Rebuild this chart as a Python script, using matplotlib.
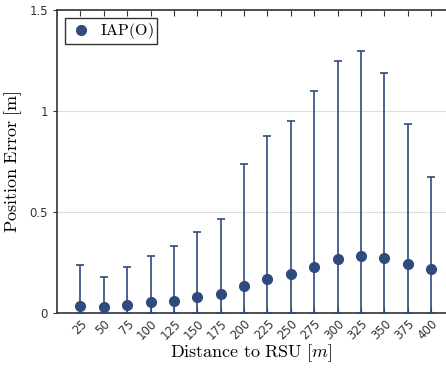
import matplotlib
matplotlib.use("Agg")
import matplotlib.pyplot as plt
from matplotlib.lines import Line2D
import numpy as np

# distances to the RSU and the mean position error with its upper spread
distances = [25, 50, 75, 100, 125, 150, 175, 200, 225, 250, 275, 300, 325, 350, 375, 400]
mean_err = [0.035, 0.030, 0.040, 0.053, 0.061, 0.078, 0.093, 0.132, 0.167, 0.193,
            0.229, 0.267, 0.282, 0.274, 0.243, 0.216]
upper_err = [0.236, 0.177, 0.226, 0.282, 0.332, 0.403, 0.465, 0.736, 0.878, 0.952,
             1.098, 1.248, 1.299, 1.190, 0.937, 0.673]

plt.rcParams['mathtext.fontset'] = 'cm'
navy = '#2f4a7d'

fig = plt.figure(figsize=(4.46, 3.7), dpi=100)
ax = fig.add_axes([0.128, 0.154, 0.872, 0.819])

mean = np.array(mean_err)
lo = mean
hi = np.array(upper_err) - mean
ax.errorbar(distances, mean_err, yerr=[lo, hi], fmt='o', color=navy, ecolor=navy,
            markersize=7, elinewidth=1.2, capsize=3, capthick=1.2, zorder=3)

ax.set_xlim(0, 416)
ax.set_ylim(0, 1.5)
ax.set_xticks(distances)
ax.set_xticklabels([str(d) for d in distances], rotation=45, ha='right',
                   rotation_mode='anchor', fontsize=8.5, color='#333333')
ax.set_yticks([0, 0.5, 1, 1.5])
ax.set_yticklabels(['0', '0.5', '1', '1.5'], fontsize=8.5, color='#333333')
ax.tick_params(axis='x', direction='in', top=True, length=4, color='#333333', pad=3)
ax.tick_params(axis='y', direction='out', length=3, color='#333333')
ax.grid(axis='y', color='#dddddd', linewidth=0.8)
ax.set_axisbelow(True)

for side in ['left', 'bottom', 'top']:
    ax.spines[side].set_color('#333333')
    ax.spines[side].set_linewidth(1.2)
ax.spines['right'].set_visible(False)

ax.set_xlabel(r'$\mathrm{Distance\ to\ RSU\ }[m]$', fontsize=13, labelpad=0)
ax.set_ylabel(r'$\mathrm{Position\ Error\ [m]}$', fontsize=13, labelpad=4)

handle = Line2D([], [], marker='o', linestyle='none', color=navy, markersize=7)
leg = ax.legend([handle], [r'$\mathrm{IAP(O)}$'], loc='upper left',
                prop={'size': 11.5}, fancybox=False, edgecolor='#333333', framealpha=1,
                handletextpad=0.4, handlelength=1.6, borderpad=0.2, borderaxespad=0.5)
leg.get_frame().set_linewidth(1.0)

fig.savefig('out.png', dpi=100)
